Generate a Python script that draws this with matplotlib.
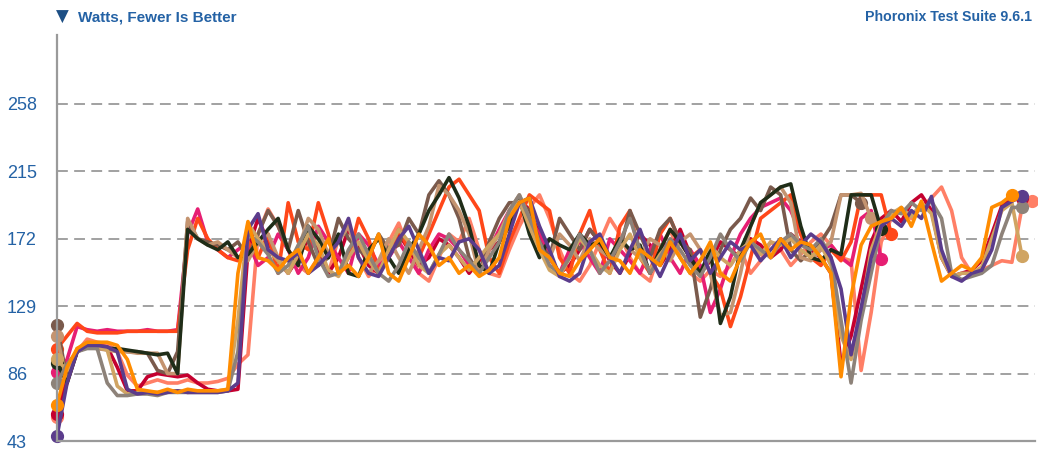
import numpy as np
import matplotlib.pyplot as plt

# power draw samples (Watts)
purple = [46, 80, 100, 104, 104, 103, 100, 76, 73, 74,
          73, 74, 75, 74, 74, 74, 74, 75, 80, 178,
          188, 165, 160, 158, 163, 150, 155, 162, 170, 185,
          160, 150, 148, 160, 172, 180, 165, 150, 160, 158,
          170, 172, 165, 150, 155, 175, 195, 198, 180, 165,
          148, 145, 150, 170, 175, 160, 150, 165, 178, 160,
          148, 162, 175, 158, 165, 150, 160, 170, 165, 168,
          158, 165, 172, 160, 168, 175, 170, 160, 140, 98,
          128, 160, 180, 185, 180, 190, 185, 199, 165, 148,
          145, 150, 152, 165, 192, 196, 199]
orange = [66, 90, 102, 106, 106, 106, 104, 95, 76, 75,
          74, 76, 74, 76, 75, 75, 75, 76, 150, 183,
          160, 158, 152, 160, 165, 150, 160, 172, 150, 155,
          148, 160, 175, 150, 145, 160, 175, 168, 155, 160,
          150, 155, 148, 152, 160, 185, 195, 198, 165, 160,
          150, 148, 158, 165, 172, 160, 158, 150, 165, 160,
          155, 170, 160, 150, 158, 170, 150, 145, 160, 170,
          175, 160, 172, 165, 170, 168, 160, 150, 84, 135,
          168, 180, 183, 185, 192, 180, 196, 170, 145, 150,
          155, 152, 160, 192, 195, 200]
gray = [80, 92, 100, 102, 102, 80, 72, 72, 73, 73,
        72, 74, 74, 74, 74, 74, 74, 75, 100, 175,
        170, 162, 150, 155, 168, 180, 160, 148, 150, 165,
        175, 162, 150, 145, 155, 170, 160, 150, 162, 175,
        165, 158, 150, 160, 170, 190, 200, 185, 170, 155,
        150, 160, 175, 165, 150, 158, 170, 185, 165, 150,
        160, 172, 165, 155, 148, 160, 175, 165, 158, 170,
        165, 160, 170, 175, 168, 165, 172, 160, 120, 80,
        120, 150, 180, 190, 188, 195, 190, 196, 185, 150,
        146, 148, 150, 155, 175, 192, 192]
crimson = [60, 85, 100, 104, 104, 103, 90, 75, 75, 84,
           86, 85, 84, 85, 80, 76, 75, 75, 76, 165,
           185, 170, 158, 150, 160, 172, 165, 150, 160, 178,
           168, 155, 150, 162, 175, 165, 155, 160, 172, 168,
           160, 150, 158, 165, 170, 180, 198, 190, 175, 160,
           150, 155, 165, 178, 170, 158, 150, 162, 175, 168,
           155, 165, 178, 162, 150, 158, 170, 165, 160, 172,
           168, 160, 165, 175, 170, 165, 160, 150, 92, 110,
           140, 170, 185, 190, 183, 195, 200, 190, 160, 148,
           150, 152, 158, 175, 193, 197, 198]
salmon = [58, 80, 100, 108, 106, 105, 100, 85, 78, 80,
          82, 80, 80, 82, 80, 80, 81, 83, 92, 98,
          175, 191, 180, 165, 155, 150, 160, 150, 172, 180,
          160, 148, 155, 170, 182, 165, 150, 145, 160, 175,
          170, 185, 165, 150, 148, 165, 180, 192, 200, 185,
          165, 150, 145, 155, 170, 185, 175, 160, 150, 145,
          165, 178, 160, 150, 145, 152, 148, 155, 165, 150,
          158, 170, 165, 155, 162, 170, 175, 168, 160, 158,
          88, 125, 170, 185, 190, 185, 192, 198, 205, 190,
          160, 150, 152, 155, 158, 157, 192, 196]
khaki = [95, 88, 100, 103, 103, 101, 78, 73, 74, 74,
         74, 75, 75, 74, 75, 75, 75, 76, 120, 182,
         172, 165, 158, 150, 162, 175, 168, 152, 148, 160,
         170, 158, 150, 165, 178, 170, 155, 150, 162, 168,
         160, 152, 160, 168, 175, 188, 196, 180, 165, 152,
         148, 160, 172, 165, 155, 150, 165, 175, 160, 152,
         162, 170, 160, 150, 158, 168, 160, 155, 165, 170,
         162, 170, 168, 172, 165, 160, 168, 155, 110, 95,
         125, 165, 182, 188, 192, 186, 195, 188, 160, 148,
         150, 150, 154, 172, 190, 195, 161]
brown = [117, 82, 100, 103, 102, 102, 101, 100, 100, 99,
         88, 86, 100, 183, 172, 170, 168, 165, 170, 160,
         175, 190, 180, 165, 190, 170, 155, 160, 185, 172,
         165, 160, 175, 165, 168, 185, 175, 200, 209, 200,
         185, 160, 150, 170, 185, 195, 195, 190, 170, 160,
         185, 175, 165, 178, 170, 160, 165, 190, 175, 160,
         178, 185, 170, 165, 122, 140, 165, 178, 185, 198,
         190, 205, 200, 165, 158, 165, 170, 180, 200, 200,
         195]
tan = [110, 80, 102, 103, 102, 101, 100, 100, 99, 99,
       99, 86, 86, 185, 172, 168, 170, 165, 160, 158,
       170, 175, 160, 150, 165, 185, 178, 162, 170, 180,
       160, 150, 158, 172, 160, 150, 165, 180, 206, 200,
       190, 175, 150, 165, 175, 190, 200, 185, 165, 160,
       175, 168, 158, 172, 165, 160, 170, 165, 160, 172,
       168, 158, 170, 175, 165, 150, 123, 125, 150, 180,
       195, 200, 205, 195, 160, 158, 165, 170, 200, 200,
       201, 185]
darkgreen = [93, 80, 100, 103, 103, 102, 102, 101, 100, 99,
             98, 99, 86, 178, 172, 168, 165, 170, 160, 162,
             170, 178, 185, 165, 155, 180, 172, 160, 175, 150,
             148, 165, 172, 160, 150, 165, 175, 190, 200, 211,
             198, 180, 155, 150, 170, 180, 198, 175, 160, 172,
             168, 165, 175, 168, 170, 160, 172, 165, 168, 150,
             165, 178, 170, 160, 150, 165, 118, 135, 165, 180,
             195, 200, 205, 207, 180, 160, 158, 165, 162, 200,
             200, 200, 178]
orangered = [102, 110, 118, 113, 112, 112, 112, 113, 113, 113,
             113, 113, 113, 165, 185, 172, 165, 160, 158, 170,
             160, 175, 150, 195, 170, 165, 195, 175, 150, 160,
             185, 172, 150, 160, 178, 165, 160, 175, 190, 205,
             210, 200, 190, 160, 150, 170, 185, 200, 195, 190,
             160, 150, 175, 190, 165, 150, 180, 190, 160, 150,
             175, 185, 170, 160, 165, 150, 140, 116, 135, 160,
             185, 190, 195, 200, 175, 160, 155, 165, 158, 170,
             200, 200, 200, 175]
pink = [87, 95, 116, 114, 113, 114, 113, 113, 113, 114,
        113, 113, 114, 175, 191, 170, 165, 160, 165, 170,
        155, 160, 175, 165, 150, 160, 180, 170, 160, 150,
        175, 168, 155, 160, 170, 160, 150, 165, 175, 172,
        165, 155, 150, 165, 178, 190, 195, 185, 175, 160,
        150, 165, 170, 160, 150, 172, 165, 158, 150, 165,
        175, 160, 150, 165, 155, 125, 140, 160, 175, 185,
        192, 195, 198, 190, 175, 160, 165, 168, 160, 155,
        185, 190, 159]

yticks = [43, 86, 129, 172, 215, 258]

series = [
    (salmon, '#ff7f66'),
    (crimson, '#c4002f'),
    (pink, '#e61e73'),
    (orangered, '#ff4719'),
    (brown, '#7a5a4c'),
    (tan, '#c49470'),
    (darkgreen, '#1f2d18'),
    (khaki, '#d0a462'),
    (gray, '#8d8279'),
    (purple, '#5b3c8c'),
    (orange, '#ff8c00'),
]

blue = '#2462a5'
fig = plt.figure(figsize=(10.38, 4.5), dpi=100)
ax = fig.add_axes([57 / 1038, 9 / 450, (1035 - 57) / 1038, (441 - 35) / 450])

for vals, col in series:
    y = np.array(vals, dtype=float)
    x = np.arange(len(y))
    ax.plot(x, y, color=col, lw=2.6, solid_joinstyle='round', clip_on=False)
    ax.plot(x[[0, -1]], y[[0, -1]], 'o', color=col, ms=8.5, clip_on=False)

ax.set_xlim(0, 97.3)
ax.set_ylim(43, 302)
ax.set_xticks([])
ax.set_yticks(yticks)
ax.set_yticklabels([str(t) for t in yticks])
for t in yticks[1:]:
    ax.axhline(t, color='#9a9a9a', lw=1.3, dashes=(6, 3.5), zorder=0)

ax.tick_params(axis='y', length=0, pad=36, labelsize=13, labelcolor=blue)
for lab in ax.get_yticklabels():
    lab.set_ha('left')
    lab.set_family('Liberation Sans')

for s in ['top', 'right']:
    ax.spines[s].set_visible(False)
for s in ['left', 'bottom']:
    ax.spines[s].set_color('#9a9a9a')
    ax.spines[s].set_linewidth(1.6)

fig.text(62.5 / 1038, 1 - 17 / 450, '\u25bc', color='#1d4f85', fontsize=12,
         ha='center', va='center', family='DejaVu Sans')
fig.text(78 / 1038, 1 - 17 / 450, 'Watts, Fewer Is Better', color=blue,
         fontsize=11, fontweight='bold', ha='left', va='center', family='Liberation Sans')
fig.text(1032 / 1038, 1 - 17 / 450, 'Phoronix Test Suite 9.6.1', color=blue,
         fontsize=10.2, fontweight='bold', ha='right', va='center', family='Liberation Sans')

fig.savefig('out.png', dpi=100)
